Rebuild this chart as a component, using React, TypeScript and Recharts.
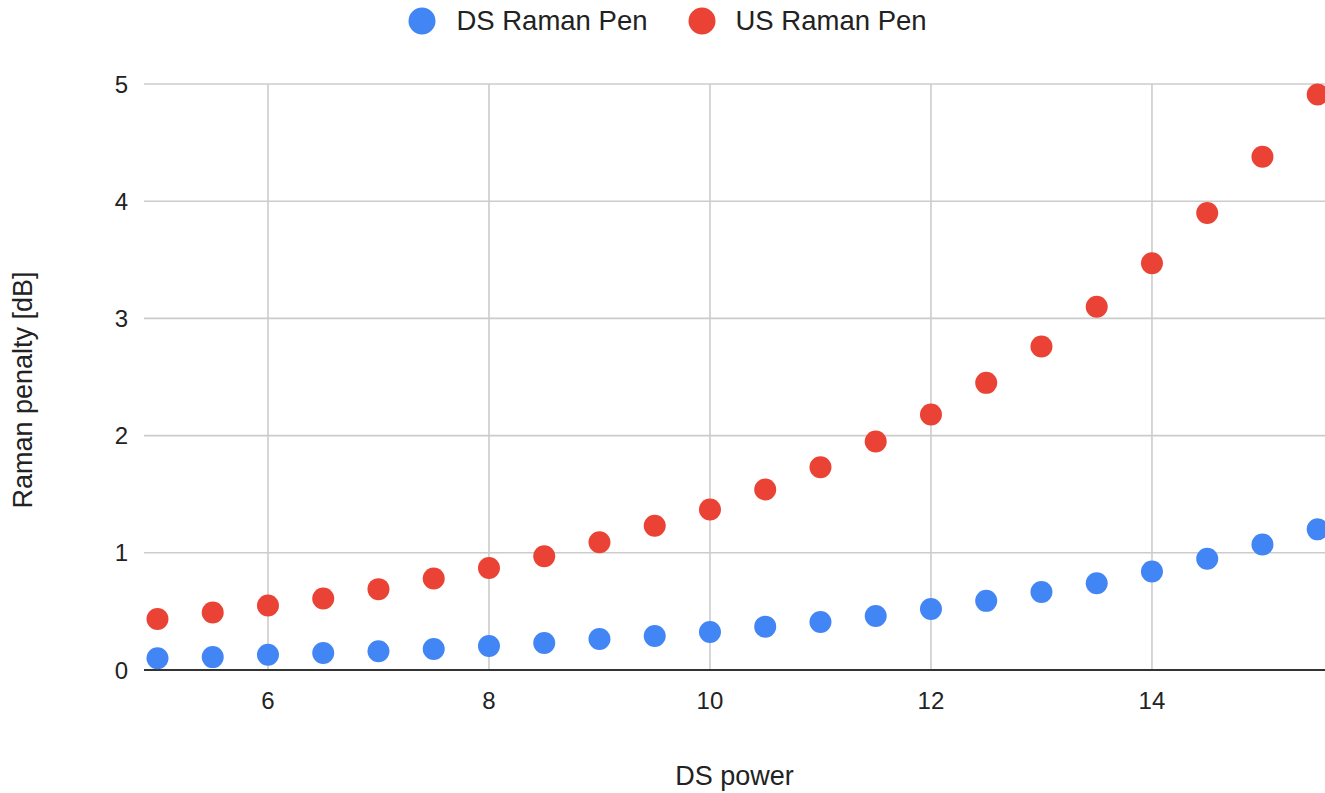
import React from "react";
import { ScatterChart, Scatter, XAxis, YAxis, CartesianGrid, Legend } from "recharts";

// DS power values (x)
const dsPower = [5, 5.5, 6, 6.5, 7, 7.5, 8, 8.5, 9, 9.5, 10, 10.5, 11, 11.5, 12, 12.5, 13, 13.5, 14, 14.5, 15, 15.5];

// penalties [dB]
const dsRamanPen = [0.1, 0.11, 0.13, 0.145, 0.16, 0.18, 0.205, 0.23, 0.265, 0.29, 0.325, 0.37, 0.41, 0.46, 0.52, 0.59, 0.665, 0.74, 0.84, 0.95, 1.07, 1.2];
const usRamanPen = [0.435, 0.49, 0.55, 0.61, 0.69, 0.78, 0.87, 0.97, 1.09, 1.23, 1.37, 1.54, 1.73, 1.95, 2.18, 2.45, 2.76, 3.1, 3.47, 3.9, 4.38, 4.91];

const xTicks = [6, 8, 10, 12, 14];
const yTicks = [0, 1, 2, 3, 4, 5];

const BLUE = "#4285F4";
const RED = "#EA4335";
const FONT = "'Liberation Sans', Arial, sans-serif";

const dsData = dsPower.map((x, i) => ({ x, y: dsRamanPen[i] }));
const usData = dsPower.map((x, i) => ({ x, y: usRamanPen[i] }));

const legendItems = [
    { name: "DS Raman Pen", color: BLUE },
    { name: "US Raman Pen", color: RED },
];

const TopLegend = () => (
    <div style={{ height: 42, display: "flex", justifyContent: "center", alignItems: "center", gap: 40, fontFamily: FONT, fontSize: 27.5, color: "#222", paddingLeft: 10 }}>
        {legendItems.map(item => (
            <div key={item.name} style={{ display: "flex", alignItems: "center", gap: 20 }}>
                <svg width={28} height={28}>
                    <circle cx={14} cy={14} r={13.5} fill={item.color} />
                </svg>
                <span>{item.name}</span>
            </div>
        ))}
    </div>
);

const YTitle = () => (
    <text x={32} y={390} transform="rotate(-90, 32, 390)" textAnchor="middle" fontFamily={FONT} fontSize={27} fill="#222">
        Raman penalty [dB]
    </text>
);

// plain filled dot
const Dot = (props: any) => <circle cx={props.cx} cy={props.cy} r={11} fill={props.fill} />;

export default function App() {
    const tick = { fontFamily: FONT, fontSize: 24, fill: "#222" };
    return (
        <div style={{ position: "absolute", left: 0, top: 0, background: "#fff" }}>
            <ScatterChart width={1325} height={793} margin={{ top: 42, right: 0, bottom: 0, left: 0 }}>
                <CartesianGrid stroke="#cccccc" strokeWidth={1.6} verticalValues={xTicks} horizontalValues={[1, 2, 3, 4, 5]} />
                <XAxis
                    type="number"
                    dataKey="x"
                    domain={[4.878, 15.566]}
                    allowDataOverflow
                    ticks={xTicks}
                    height={123}
                    tickLine={false}
                    tickSize={0}
                    tickMargin={22}
                    axisLine={{ stroke: "#333", strokeWidth: 1.8 }}
                    tick={tick}
                    label={{ value: "DS power", position: "insideBottom", offset: 8, fontFamily: FONT, fontSize: 27, fill: "#222" }}
                />
                <YAxis
                    type="number"
                    dataKey="y"
                    domain={[0, 5]}
                    ticks={yTicks}
                    width={144}
                    tickLine={false}
                    tickSize={0}
                    tickMargin={16}
                    axisLine={false}
                    tick={tick}
                    label={<YTitle />}
                />
                <Legend verticalAlign="top" wrapperStyle={{ top: 0 }} content={<TopLegend />} />
                <Scatter name="DS Raman Pen" data={dsData} fill={BLUE} shape={<Dot />} isAnimationActive={false} />
                <Scatter name="US Raman Pen" data={usData} fill={RED} shape={<Dot />} isAnimationActive={false} />
            </ScatterChart>
        </div>
    );
}
